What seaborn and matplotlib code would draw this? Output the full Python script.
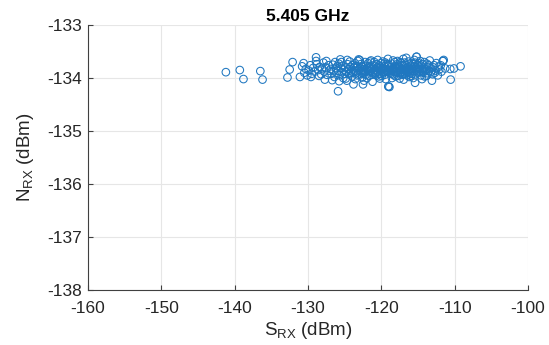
import matplotlib
matplotlib.use("Agg")
import matplotlib.pyplot as plt
import seaborn as sns
import pandas as pd

title = "5.405 GHz"
x_ticks = [-160, -150, -140, -130, -120, -110, -100]
y_ticks = [-138, -137, -136, -135, -134, -133]

# S_RX (dBm) values, grouped by 1-dB bins
s_rx = [
    -141.2, -139.3, -138.8, -136.5, -136.2, -132.8, -132.1, -132.5, -131.1,
    -125.9, -119.05, -110.55, -109.2, -110.6, -110.1, -111.6, -128.9, -115.2,
    -130.8, -130.5, -130.3, -130.1, -130.6,
    -129.9, -129.7, -129.5, -129.3, -129.1, -129.6,
    -128.8, -128.6, -128.4, -128.2, -128.9, -128.5, -128.1,
    -127.9, -127.8, -127.6, -127.4, -127.2, -127.1, -127.5, -127.7,
    -126.9, -126.8, -126.6, -126.5, -126.4, -126.3, -126.2, -126.1, -126.7, -126.0,
    -125.9, -125.8, -125.7, -125.6, -125.5, -125.4, -125.3, -125.2, -125.1, -125.0, -125.45, -125.75,
    -124.9, -124.8, -124.7, -124.6, -124.5, -124.4, -124.3, -124.2, -124.1, -124.0, -124.65, -124.35, -124.85, -124.15,
    -123.9, -123.8, -123.7, -123.6, -123.5, -123.4, -123.3, -123.2, -123.1, -123.0, -123.85, -123.55, -123.25, -123.45, -123.65, -123.15,
    -122.9, -122.8, -122.7, -122.6, -122.5, -122.4, -122.3, -122.2, -122.1, -122.0, -122.95, -122.75, -122.55, -122.35, -122.15, -122.45, -122.65, -122.25,
    -121.9, -121.8, -121.7, -121.6, -121.5, -121.4, -121.3, -121.2, -121.1, -121.0, -121.95, -121.75, -121.55, -121.35, -121.15, -121.45, -121.65, -121.05,
    -120.9, -120.8, -120.7, -120.6, -120.5, -120.4, -120.3, -120.2, -120.1, -120.0, -120.95, -120.75, -120.55, -120.35, -120.15, -120.45, -120.65, -120.05,
    -119.9, -119.8, -119.7, -119.6, -119.5, -119.4, -119.3, -119.2, -119.1, -119.0, -119.95, -119.75, -119.55, -119.35, -119.15, -119.45, -119.65, -119.05,
    -118.9, -118.8, -118.7, -118.6, -118.5, -118.4, -118.3, -118.2, -118.1, -118.0, -118.95, -118.75, -118.55, -118.35, -118.15, -118.45, -118.65, -118.25, -118.05, -118.85,
    -117.9, -117.8, -117.7, -117.6, -117.5, -117.4, -117.3, -117.2, -117.1, -117.0, -117.95, -117.75, -117.55, -117.35, -117.15, -117.45, -117.65, -117.25, -117.05, -117.85,
    -116.9, -116.8, -116.7, -116.6, -116.5, -116.4, -116.3, -116.2, -116.1, -116.0, -116.95, -116.75, -116.55, -116.35, -116.15, -116.45, -116.65, -116.25, -116.05, -116.85,
    -115.9, -115.8, -115.7, -115.6, -115.5, -115.4, -115.3, -115.2, -115.1, -115.0, -115.95, -115.75, -115.55, -115.35, -115.15, -115.45, -115.65, -115.05,
    -114.9, -114.8, -114.7, -114.6, -114.5, -114.4, -114.3, -114.2, -114.1, -114.0, -114.95, -114.75, -114.55, -114.35, -114.15, -114.45,
    -113.9, -113.8, -113.7, -113.6, -113.5, -113.4, -113.3, -113.1, -113.0, -113.85, -113.55, -113.25,
    -112.9, -112.7, -112.5, -112.3, -112.1, -112.6, -112.8, -112.2,
    -111.8, -111.6, -111.5, -111.3, -111.9,
]

# N_RX (dBm) values, same order as s_rx
n_rx = [
    -133.89, -133.85, -134.02, -133.87, -134.03, -133.99, -133.70, -133.84, -133.98,
    -134.25, -134.16, -134.03, -133.78, -133.83, -133.82, -133.68, -133.61, -133.60,
    -133.78, -133.90, -133.83, -133.95, -133.72,
    -133.86, -133.76, -133.92, -133.81, -133.88, -133.98,
    -133.74, -133.85, -133.79, -133.93, -133.68, -133.96, -133.82,
    -133.71, -133.88, -133.80, -133.94, -133.76, -133.86, -133.68, -134.03,
    -133.83, -133.92, -133.75, -133.87, -133.98, -133.70, -133.81, -133.90, -134.04, -133.78,
    -133.86, -133.73, -133.95, -133.65, -133.82, -133.89, -133.77, -134.00, -133.84, -133.92, -133.70, -134.06,
    -133.80, -133.88, -134.05, -133.74, -133.84, -133.93, -133.69, -133.79, -133.87, -133.97, -133.66, -133.83, -134.01, -133.90,
    -133.76, -134.12, -133.86, -133.72, -133.91, -133.81, -133.95, -133.68, -133.65, -133.84, -133.89, -134.02, -133.78, -133.87, -133.80, -133.93,
    -133.82, -133.74, -133.90, -133.99, -134.12, -133.78, -133.86, -133.70, -133.94, -133.81, -133.66, -133.87, -133.84, -134.05, -133.77, -133.92, -133.79, -133.89,
    -133.85, -133.72, -133.96, -133.80, -133.88, -133.67, -133.83, -134.07, -133.91, -133.76, -134.00, -133.87, -133.69, -133.94, -133.81, -133.86, -133.78, -133.89,
    -133.84, -133.93, -133.74, -133.88, -133.66, -133.82, -133.97, -134.01, -133.79, -133.86, -133.70, -133.90, -133.81, -133.76, -133.92, -133.87, -133.95, -133.72,
    -133.83, -133.69, -133.91, -133.78, -133.86, -134.02, -133.74, -133.88, -133.64, -134.16, -133.96, -133.81, -133.94, -133.84, -133.77, -133.71, -133.89, -133.85,
    -134.17, -133.80, -133.92, -133.73, -133.86, -133.67, -133.83, -133.95, -133.78, -133.89, -133.75, -133.87, -134.00, -133.82, -133.70, -133.93, -133.84, -133.88, -133.97, -133.90,
    -133.81, -133.68, -133.90, -133.77, -134.01, -133.85, -133.72, -133.94, -133.83, -133.64, -133.87, -133.96, -133.80, -133.89, -133.76, -133.70, -133.86, -133.82, -133.92, -133.74,
    -133.86, -133.75, -133.93, -133.62, -133.81, -133.88, -133.69, -133.98, -133.84, -133.77, -134.03, -133.83, -133.90, -133.79, -133.73, -133.95, -133.86, -133.85, -133.91, -133.71,
    -133.82, -133.92, -133.74, -133.87, -133.66, -134.09, -133.80, -133.60, -133.89, -133.76, -133.96, -133.84, -133.78, -133.93, -133.83, -133.71, -134.00, -133.86,
    -133.79, -133.88, -133.68, -133.95, -133.83, -133.74, -133.90, -133.81, -133.97, -133.86, -133.72, -133.84, -133.77, -133.87, -133.70, -134.02,
    -133.84, -133.73, -133.91, -133.79, -133.87, -133.67, -133.82, -134.05, -133.93, -133.96, -133.76, -133.88,
    -133.80, -133.90, -133.72, -133.95, -133.84, -133.86, -133.76, -133.79,
    -133.88, -133.68, -133.66, -133.82, -133.76,
]

df = pd.DataFrame({"S_RX": s_rx, "N_RX": n_rx})

sns.set_theme(style="white")
plt.rcParams["font.family"] = ["Liberation Sans", "DejaVu Sans"]
plt.rcParams["mathtext.default"] = "regular"

fig = plt.figure(figsize=(5.49, 3.45), dpi=100)
ax = fig.add_axes([88 / 549, 1 - 290 / 345, 440 / 549, 265 / 345])

sns.scatterplot(data=df, x="S_RX", y="N_RX", ax=ax, marker="o", s=30,
                facecolor="none", edgecolor="#1f77c0", linewidth=0.75)

ax.set_xlim(-160, -100)
ax.set_ylim(-138, -133)
ax.set_xticks(x_ticks)
ax.set_yticks(y_ticks)
ax.set_xticklabels([str(t) for t in x_ticks])
ax.set_yticklabels([str(t) for t in y_ticks])
ax.grid(True, color="#e6e6e6", linewidth=0.8)
ax.set_axisbelow(True)
for side in ["top", "right"]:
    ax.spines[side].set_visible(False)
for side in ["left", "bottom"]:
    ax.spines[side].set_color("#404040")
    ax.spines[side].set_linewidth(0.8)
ax.tick_params(axis="both", direction="in", length=3.5, width=0.8,
               colors="#404040", labelsize=12.5, left=True, bottom=True)
ax.tick_params(axis="x", pad=8, labelcolor="#262626")
ax.tick_params(axis="y", pad=4, labelcolor="#262626")
ax.set_xlabel("S$_{RX}$ (dBm)", fontsize=13.5, color="#262626", labelpad=3)
ax.set_ylabel("N$_{RX}$ (dBm)", fontsize=13.5, color="#262626", labelpad=8)
ax.set_title(title, fontsize=12.5, fontweight="bold", color="black", pad=3)

fig.savefig("out.png", dpi=100)
